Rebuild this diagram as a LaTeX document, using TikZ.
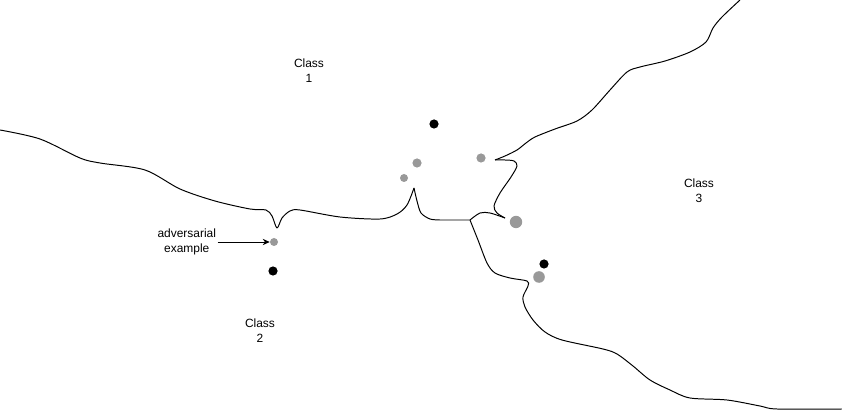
\documentclass[tikz,border=0pt]{standalone}
\usepackage{fontspec}
\setmainfont{Liberation Sans}
\usetikzlibrary{arrows.meta,positioning}
\definecolor{ptgray}{HTML}{999999}

\begin{document}
\begin{tikzpicture}[
  x=0.025cm, y=-0.025cm,
  lbl/.style={font=\fontsize{8.5}{10.5}\selectfont, align=center, inner sep=1pt},
  dot/.style={circle, fill=black, inner sep=0pt, minimum size=0.23cm},
  gdot/.style={circle, fill=ptgray, inner sep=0pt, minimum size=0.23cm},
  bigdot/.style={circle, fill=ptgray, inner sep=0pt, minimum size=0.31cm},
  boundary/.style={line width=0.7pt, line join=round},
  pointer/.style={-{Stealth[length=5pt, width=4.5pt]}, line width=0.7pt}
]
  \useasboundingbox (0,0) rectangle (842,412);

  % class labels
  \node[lbl] (c1) at (309,71) {Class\\1};
  \node[lbl] (c2) at (260,331) {Class\\2};
  \node[lbl] (c3) at (699,191) {Class\\3};

  % points
  \node[dot] (b1) at (434,124) {};
  \node[dot] (b2) at (544,264) {};
  \node[dot] (b3) at (273,271) {};
  \node[gdot] (g1) at (417,163) {};
  \node[gdot, minimum size=0.2cm] (g2) at (404,178) {};
  \node[gdot] (g3) at (481,158) {};
  \node[bigdot] (g4) at (516,222) {};
  \node[bigdot, minimum size=0.29cm] (g5) at (539,277) {};
  \node[gdot, minimum size=0.2cm] (adv) at (274,242) {};

  \node[lbl, left=1.3cm of adv] (advlbl) {adversarial\\example};
  \draw[pointer] (advlbl.east |- adv) -- (adv);

  % decision boundaries
  \coordinate (junc) at (470,220);
  \draw[boundary] plot[smooth, tension=0.5] coordinates {(0,130) (40,139) (80,158) (100,163) (145,170) (180,189)
    (215,201) (250,209) (266,210) (272,216) (277,228) (282,218) (290,211) (300,210) (340,217) (380,219)
    (397,214) (407,205) (414,188)};
  \draw[boundary] plot[smooth, tension=0.5] coordinates {(414,188) (417,201) (421,213) (430,219) (440,220)}
    -- (junc);
  \draw[boundary] plot[smooth, tension=0.5] coordinates {(junc) (480,213) (490,213) (505,218)};
  \draw[boundary] plot[smooth, tension=0.5] coordinates {(505,218) (497,213) (494,206) (500,193) (511,177)
    (517,166) (514,161) (505,160) (495,160)};
  \draw[boundary] plot[smooth, tension=0.5] coordinates {(495,160) (505,156) (517,150) (526,143) (535,137)
    (555,129) (577,121) (592,110) (610,90) (627,72) (640,67) (665,61) (690,52) (706,42) (713,28)
    (722,17) (740,0)};
  \draw[boundary] plot[smooth, tension=0.5] coordinates {(junc) (478,240) (487,263) (495,273) (510,278)
    (527,281) (528,286) (523,297) (525,307) (533,320) (545,332) (562,340) (603,349) (617,354)
    (633,366) (650,380) (670,390) (690,398) (727,400) (760,406) (777,409) (842,409)};
\end{tikzpicture}
\end{document}
